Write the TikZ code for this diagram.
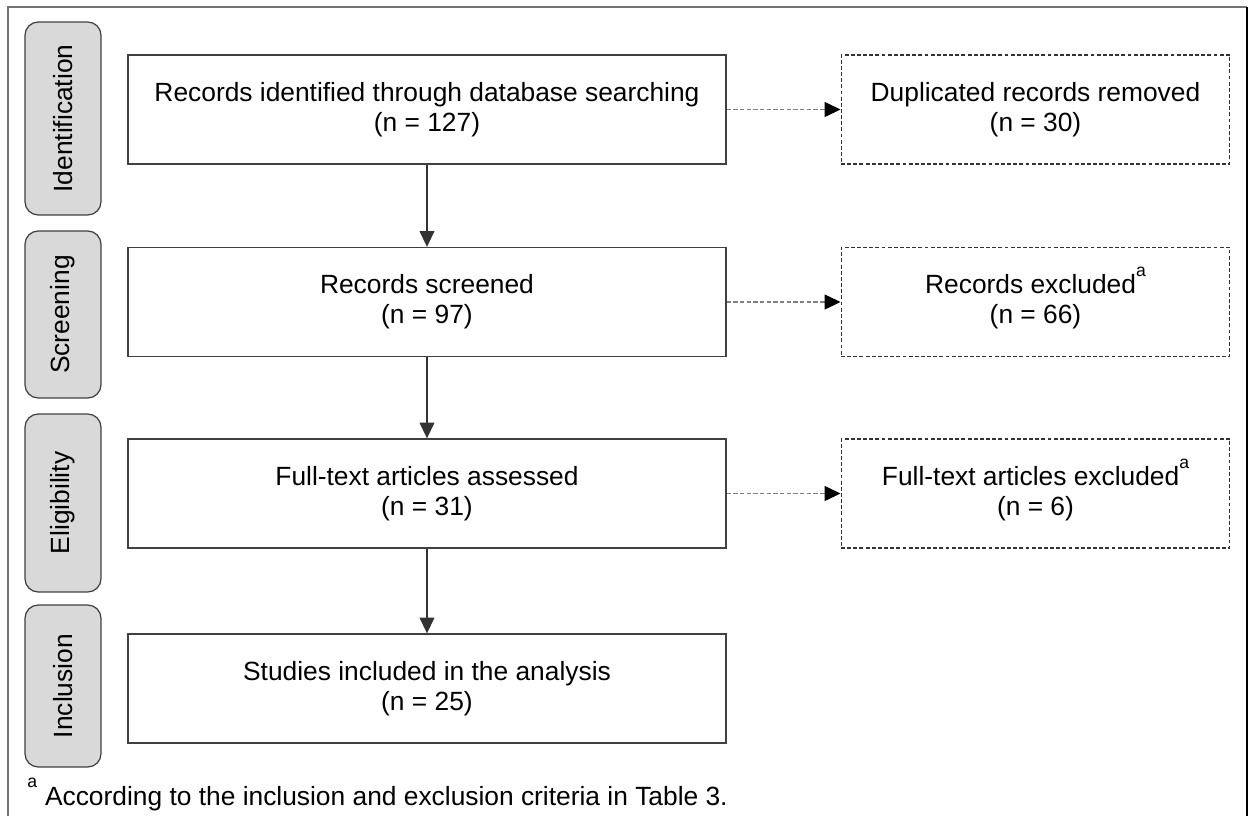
\documentclass[tikz,border=0pt]{standalone}
\usepackage{fontspec}
\setmainfont{Liberation Sans}
\usepackage{tikz}
\usetikzlibrary{
    arrows.meta,
    positioning
}
\newcommand{\supmark}{\smash{\raisebox{0.66em}{\fontsize{10}{10}\selectfont a}}}

\begin{document}
\begin{tikzpicture}[
    x=0.02cm, y=-0.02cm,
    font=\fontsize{15}{17}\selectfont,
    mainbox/.style={
    	draw=black!75,
    	line width=0.8pt,
    	minimum width=11.96cm,
    	minimum height=2.18cm,
    	align=center,
    	anchor=center
    },
    exclbox/.style={
    	draw=black!80,
    	line width=0.6pt,
    	dash pattern=on 2.2pt off 1.3pt,
    	minimum width=7.78cm,
    	minimum height=2.18cm,
    	align=center,
    	anchor=center
    },
    phase/.style={
        draw=black!75,
        fill=g1,
        line width=0.7pt,
        rounded corners=7.5pt,
        rotate=90,
        minimum height=1.52cm,
        align=center,
        anchor=center
    },
    flow/.style={
        draw=black!80,
        line width=0.6pt,
        -{Triangle[length=9pt,width=8.5pt]}
    },
    side/.style={
        draw=black!50,
        line width=0.6pt,
        dash pattern=on 2.5pt off 1.3pt,
        -{Triangle[length=9pt,width=8.5pt,color=black]}
    }]
    \definecolor{g1}{RGB}{217, 217, 217}

    \useasboundingbox (0,0) rectangle (1249,816);
    \draw[black!55, line width=0.9pt] (8,816) -- (8,7) -- (1247,7);
    \draw[black, line width=0.9pt] (1247,7) -- (1247,816);

    \node[phase, minimum width=3.86cm] (ident) at (63,118.5) {Identification};
    \node[phase, minimum width=3.34cm] (screen) at (63,314.5) {Screening};
    \node[phase, minimum width=3.56cm] (elig) at (63,503) {Eligibility};
    \node[phase, minimum width=3.24cm] (incl) at (63,686) {Inclusion};

    \node[mainbox] (found) at (427,109.5) {Records identified through database searching\\(n = 127)};
    \node[mainbox] (screened) at (427,302) {Records screened\\(n = 97)};
    \node[mainbox] (assessed) at (427,493.5) {Full-text articles assessed\\(n = 31)};
    \node[mainbox] (included) at (427,688.5) {Studies included in the analysis\\(n = 25)};

    \node[exclbox] (dupl) at (1035.5,109.5) {Duplicated records removed\\(n = 30)};
    \node[exclbox] (recexcl) at (1035.5,302) {Records excluded\supmark\\(n = 66)};
    \node[exclbox] (ftexcl) at (1035.5,493.5) {Full-text articles excluded\supmark\\(n = 6)};

    \draw[flow] (found) -- (screened);
    \draw[flow] (screened) -- (assessed);
    \draw[flow] (assessed) -- (included);

    \draw[side] (found) -- (dupl);
    \draw[side] (screened) -- (recexcl);
    \draw[side] (assessed) -- (ftexcl);

    \node[anchor=base west, inner sep=0pt] (note) at (27,805) {\supmark\hspace{0.3em}According to the inclusion and exclusion criteria in Table 3.};

    \end{tikzpicture}
\end{document}
